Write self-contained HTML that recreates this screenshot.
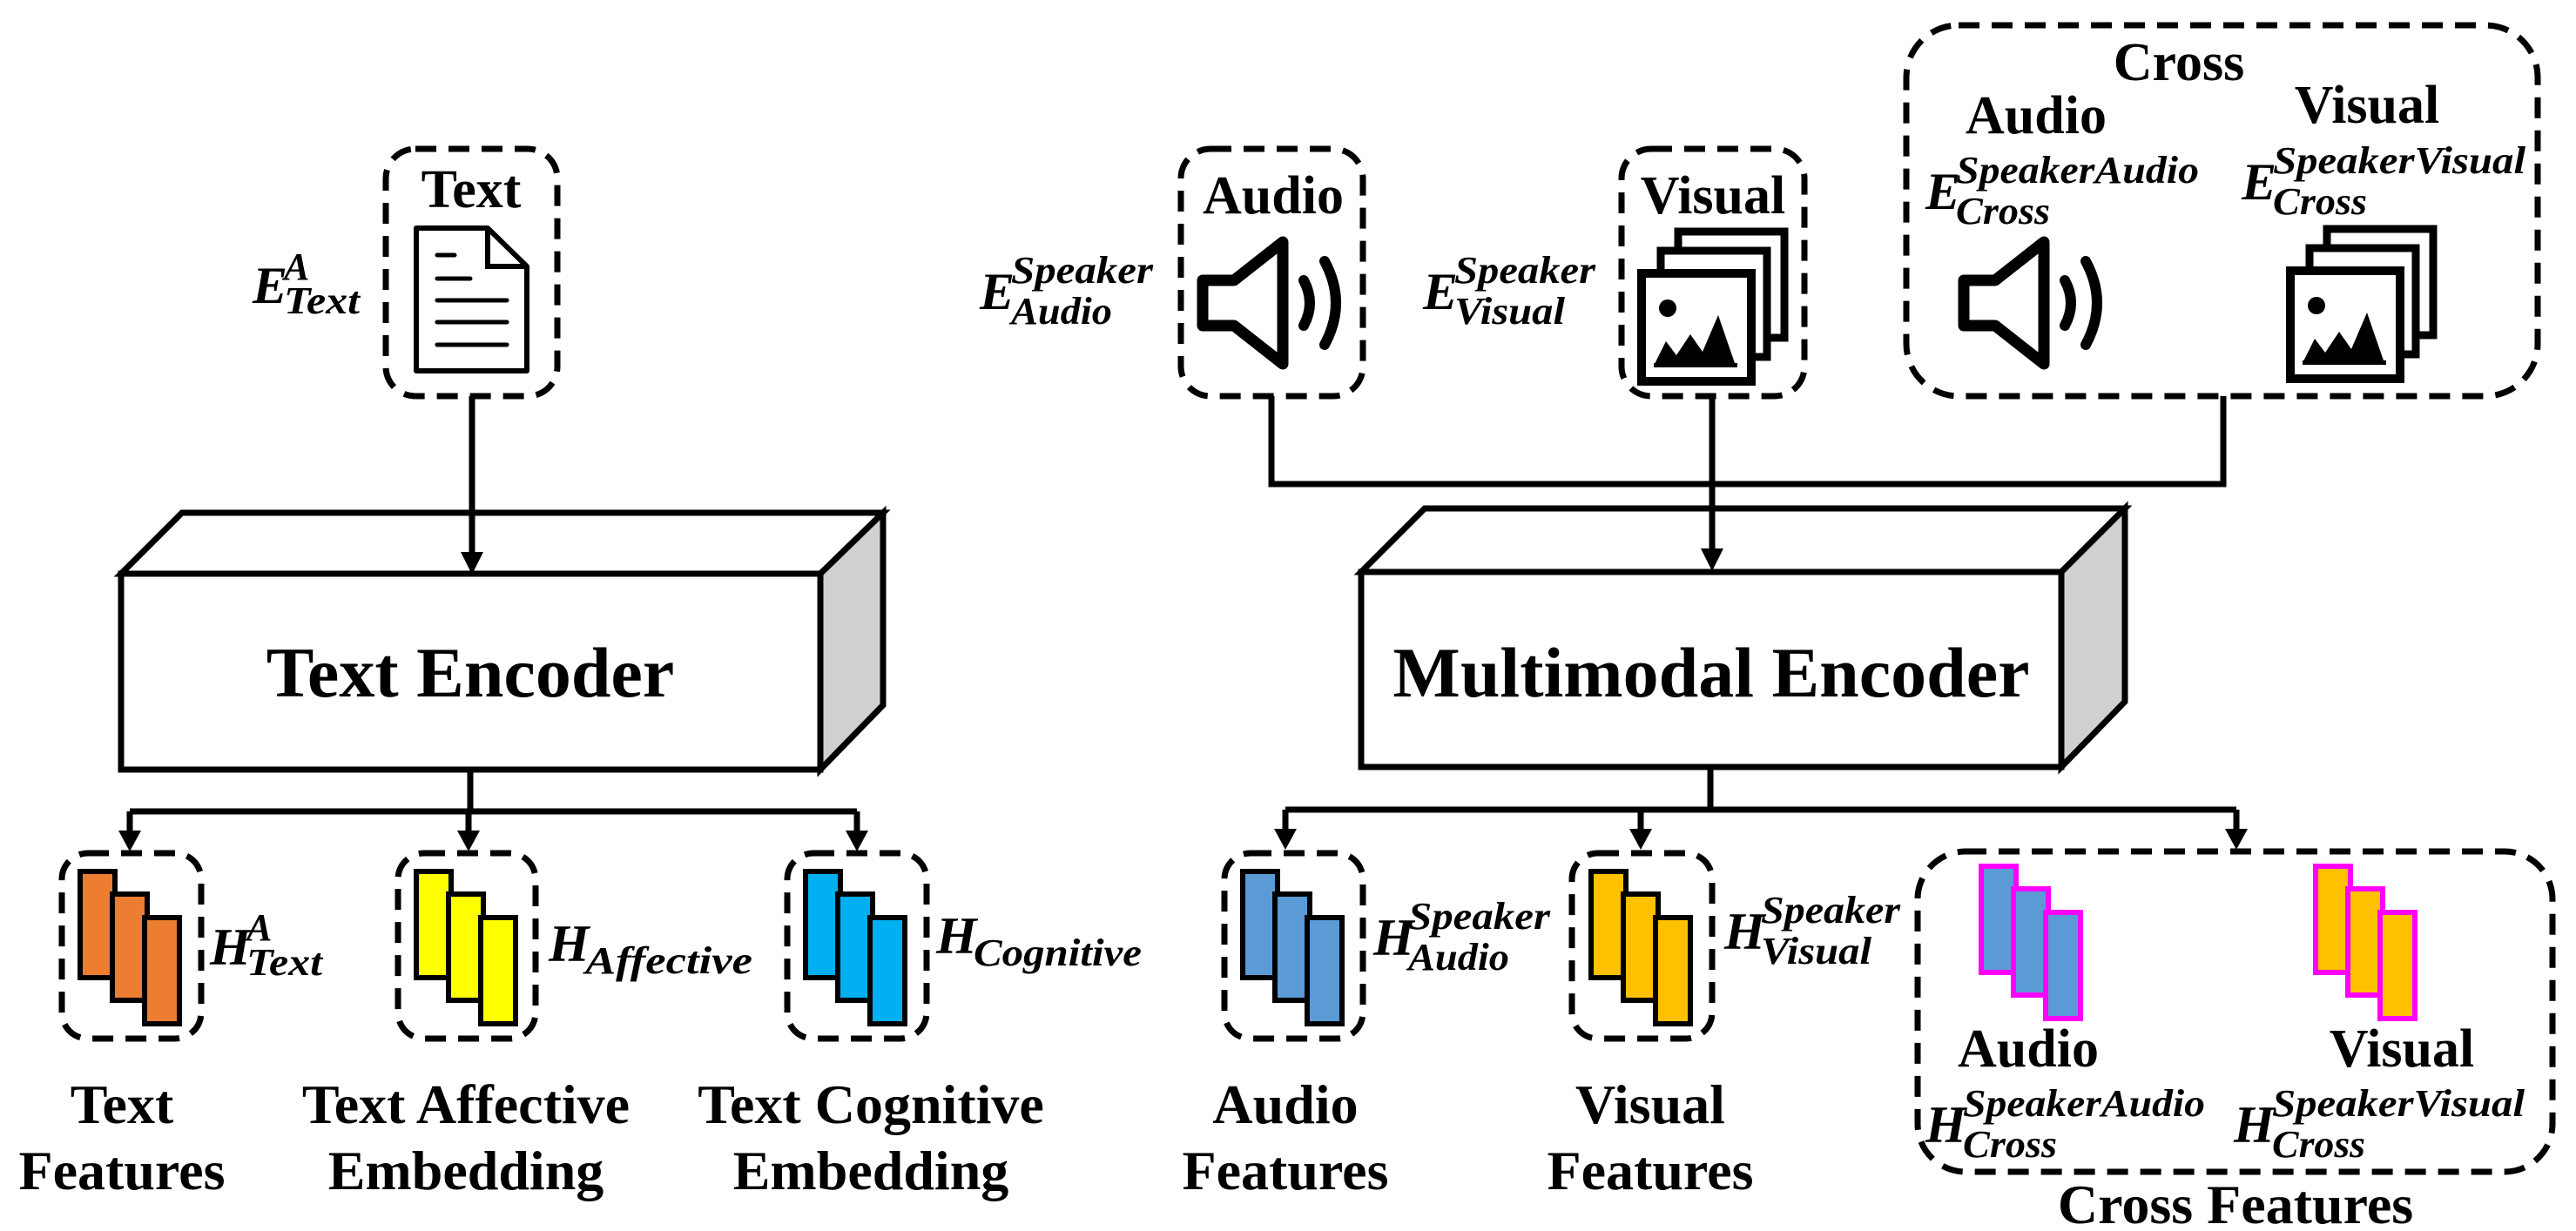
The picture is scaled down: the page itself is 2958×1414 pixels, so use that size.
<!DOCTYPE html>
<html><head><meta charset="utf-8"><style>
html,body{margin:0;padding:0;background:#fff;}
svg{display:block;}
.t{font-family:"Liberation Serif",serif;font-weight:bold;fill:#000;}
.m{font-family:"Liberation Serif",serif;font-weight:bold;font-style:italic;fill:#000;}
.d{fill:none;stroke:#000;stroke-width:7;stroke-dasharray:24 14;}
.l{fill:none;stroke:#000;stroke-width:7;}
</style></head><body>
<svg width="2958" height="1414" viewBox="0 0 2958 1414" xmlns="http://www.w3.org/2000/svg">
<defs>
<g id="spk">
<path d="M6,52 H42 L98,8 V148 L42,104 H6 Z" fill="none" stroke="#000" stroke-width="13" stroke-linejoin="round"/>
<path d="M122,52 Q136,78 122,104" fill="none" stroke="#000" stroke-width="12" stroke-linecap="round"/>
<path d="M146,30 Q172,78 146,126" fill="none" stroke="#000" stroke-width="12" stroke-linecap="round"/>
</g>
<g id="img">
<rect x="46" y="4" width="122" height="122" fill="#fff" stroke="#000" stroke-width="9"/>
<rect x="26" y="26" width="122" height="122" fill="#fff" stroke="#000" stroke-width="9"/>
<rect x="4" y="52" width="126" height="124" fill="#fff" stroke="#000" stroke-width="10"/>
<circle cx="34" cy="92" r="10" fill="#000"/>
<path d="M18,158 L32,130 L44,146 L60,122 L74,142 L92,100 L112,158 Z" fill="#000"/>
<rect x="18" y="155" width="96" height="5" fill="#000"/>
</g>
<g id="bars">
<rect x="0" y="0" width="40" height="122"/>
<rect x="37" y="26" width="40" height="122"/>
<rect x="74" y="53" width="40" height="122"/>
</g>
</defs>

<!-- Text input box -->
<rect class="d" x="443" y="171" width="197" height="284" rx="34"/>
<text class="t" x="541" y="238" font-size="62" text-anchor="middle">Text</text>
<path d="M478,262 H560 L605,306 V426 H478 Z" fill="#fff" stroke="#000" stroke-width="6" stroke-linejoin="round"/>
<path d="M560,262 V306 H605" fill="none" stroke="#000" stroke-width="6"/>
<g stroke="#000" stroke-width="5" stroke-linecap="round">
<line x1="502" y1="293" x2="522" y2="293"/><line x1="502" y1="320" x2="540" y2="320"/>
<line x1="502" y1="345" x2="582" y2="345"/><line x1="502" y1="370" x2="582" y2="370"/><line x1="502" y1="396" x2="582" y2="396"/>
</g>
<text class="m" x="290" y="348" font-size="60">E</text>
<text class="m" x="326" y="321" font-size="44">A</text>
<text class="m" x="326" y="360" font-size="44" textLength="87" lengthAdjust="spacingAndGlyphs">Text</text>

<!-- Audio box -->
<rect class="d" x="1356" y="171" width="209" height="284" rx="34"/>
<text class="t" x="1462" y="245" font-size="62" text-anchor="middle">Audio</text>
<use href="#spk" x="1375" y="270"/>
<text class="m" x="1125" y="355" font-size="60">E</text>
<text class="m" x="1161" y="325" font-size="44" textLength="163" lengthAdjust="spacingAndGlyphs">Speaker</text>
<text class="m" x="1161" y="372" font-size="44" textLength="116" lengthAdjust="spacingAndGlyphs">Audio</text>

<!-- Visual box -->
<rect class="d" x="1862" y="171" width="210" height="284" rx="34"/>
<text class="t" x="1967" y="245" font-size="62" text-anchor="middle">Visual</text>
<use href="#img" x="1881" y="262"/>
<text class="m" x="1634" y="355" font-size="60">E</text>
<text class="m" x="1670" y="325" font-size="44" textLength="162" lengthAdjust="spacingAndGlyphs">Speaker</text>
<text class="m" x="1670" y="372" font-size="44" textLength="127" lengthAdjust="spacingAndGlyphs">Visual</text>

<!-- Cross box -->
<rect class="d" x="2189" y="29" width="725" height="426" rx="60"/>
<text class="t" x="2502" y="92" font-size="62" text-anchor="middle">Cross</text>
<text class="t" x="2338" y="153" font-size="62" text-anchor="middle">Audio</text>
<text class="t" x="2718" y="141" font-size="62" text-anchor="middle">Visual</text>
<text class="m" x="2211" y="240" font-size="60">E</text>
<text class="m" x="2246" y="210" font-size="44" textLength="279" lengthAdjust="spacingAndGlyphs">SpeakerAudio</text>
<text class="m" x="2246" y="257" font-size="44" textLength="108" lengthAdjust="spacingAndGlyphs">Cross</text>
<text class="m" x="2574" y="229" font-size="60">E</text>
<text class="m" x="2610" y="199" font-size="44" textLength="290" lengthAdjust="spacingAndGlyphs">SpeakerVisual</text>
<text class="m" x="2610" y="246" font-size="44" textLength="108" lengthAdjust="spacingAndGlyphs">Cross</text>
<use href="#spk" x="2249" y="270"/>
<use href="#img" x="2626" y="259"/>

<!-- Text encoder -->
<polygon points="139,659 209,589 1014,589 942,659" fill="#fff" stroke="#000" stroke-width="7"/>
<polygon points="942,659 1014,589 1014,810 942,884" fill="#d0d0d0" stroke="#000" stroke-width="7"/>
<rect x="139" y="659" width="803" height="225" fill="#fff" stroke="#000" stroke-width="7"/>
<text class="t" x="540" y="800" font-size="82" text-anchor="middle">Text Encoder</text>

<!-- Multimodal encoder -->
<polygon points="1563,657 1636,584 2440,584 2367,657" fill="#fff" stroke="#000" stroke-width="7"/>
<polygon points="2367,657 2440,584 2440,806 2367,881" fill="#d0d0d0" stroke="#000" stroke-width="7"/>
<rect x="1563" y="657" width="804" height="224" fill="#fff" stroke="#000" stroke-width="7"/>
<text class="t" x="1965" y="800" font-size="82" text-anchor="middle">Multimodal Encoder</text>

<!-- connectors top (drawn over encoders) -->
<path class="l" d="M542,455 V636"/>
<polygon points="529,634 555,634 542,660" fill="#000"/>
<path class="l" d="M1460,455 V556 H2553 V455"/>
<path class="l" d="M1966,455 V632"/>
<polygon points="1953,630 1979,630 1966,656" fill="#000"/>

<!-- bottom connectors left -->
<path class="l" d="M540,884 V932 M149,932 H984 M149,932 V956 M538,932 V956 M984,932 V956"/>
<polygon points="136,954 162,954 149,978" fill="#000"/>
<polygon points="525,954 551,954 538,978" fill="#000"/>
<polygon points="971,954 997,954 984,978" fill="#000"/>
<!-- bottom connectors right -->
<path class="l" d="M1964,881 V930 M1476,930 H2568 M1476,930 V954 M1884,930 V954 M2568,930 V954"/>
<polygon points="1463,952 1489,952 1476,976" fill="#000"/>
<polygon points="1871,952 1897,952 1884,976" fill="#000"/>
<polygon points="2555,952 2581,952 2568,976" fill="#000"/>

<!-- feature boxes -->
<rect class="d" x="71" y="980" width="160" height="213" rx="30"/>
<g transform="translate(92,1001)" fill="#ed7d31" stroke="#000" stroke-width="6"><use href="#bars"/></g>
<rect class="d" x="457" y="980" width="158" height="213" rx="30"/>
<g transform="translate(478,1001)" fill="#ffff00" stroke="#000" stroke-width="6"><use href="#bars"/></g>
<rect class="d" x="904" y="980" width="160" height="213" rx="30"/>
<g transform="translate(925,1001)" fill="#00b0f0" stroke="#000" stroke-width="6"><use href="#bars"/></g>
<rect class="d" x="1406" y="980" width="159" height="213" rx="30"/>
<g transform="translate(1427,1001)" fill="#5b9bd5" stroke="#000" stroke-width="6"><use href="#bars"/></g>
<rect class="d" x="1805" y="980" width="161" height="213" rx="30"/>
<g transform="translate(1827,1001)" fill="#ffc000" stroke="#000" stroke-width="6"><use href="#bars"/></g>

<!-- H labels -->
<text class="m" x="241" y="1108" font-size="60">H</text>
<text class="m" x="283" y="1080" font-size="44">A</text>
<text class="m" x="283" y="1120" font-size="44" textLength="87" lengthAdjust="spacingAndGlyphs">Text</text>
<text class="m" x="630" y="1104" font-size="60">H</text>
<text class="m" x="672" y="1118" font-size="44" textLength="192" lengthAdjust="spacingAndGlyphs">Affective</text>
<text class="m" x="1075" y="1095" font-size="60">H</text>
<text class="m" x="1118" y="1109" font-size="44" textLength="193" lengthAdjust="spacingAndGlyphs">Cognitive</text>
<text class="m" x="1577" y="1097" font-size="60">H</text>
<text class="m" x="1617" y="1067" font-size="44" textLength="163" lengthAdjust="spacingAndGlyphs">Speaker</text>
<text class="m" x="1617" y="1114" font-size="44" textLength="116" lengthAdjust="spacingAndGlyphs">Audio</text>
<text class="m" x="1980" y="1090" font-size="60">H</text>
<text class="m" x="2022" y="1060" font-size="44" textLength="160" lengthAdjust="spacingAndGlyphs">Speaker</text>
<text class="m" x="2022" y="1107" font-size="44" textLength="127" lengthAdjust="spacingAndGlyphs">Visual</text>

<!-- cross features -->
<rect class="d" x="2202" y="978" width="729" height="368" rx="55"/>
<g transform="translate(2275,995)" fill="#5b9bd5" stroke="#ff00ff" stroke-width="6"><use href="#bars"/></g>
<g transform="translate(2659,995)" fill="#ffc000" stroke="#ff00ff" stroke-width="6"><use href="#bars"/></g>
<text class="t" x="2329" y="1225" font-size="62" text-anchor="middle">Audio</text>
<text class="t" x="2758" y="1225" font-size="62" text-anchor="middle">Visual</text>
<text class="m" x="2211" y="1312" font-size="60">H</text>
<text class="m" x="2254" y="1282" font-size="44" textLength="278" lengthAdjust="spacingAndGlyphs">SpeakerAudio</text>
<text class="m" x="2254" y="1329" font-size="44" textLength="108" lengthAdjust="spacingAndGlyphs">Cross</text>
<text class="m" x="2565" y="1312" font-size="60">H</text>
<text class="m" x="2609" y="1282" font-size="44" textLength="290" lengthAdjust="spacingAndGlyphs">SpeakerVisual</text>
<text class="m" x="2609" y="1329" font-size="44" textLength="107" lengthAdjust="spacingAndGlyphs">Cross</text>

<!-- bottom labels -->
<g font-family="Liberation Serif, serif" font-weight="bold" fill="#000" font-size="64" text-anchor="middle">
<text x="140" y="1290">Text</text><text x="140" y="1366">Features</text>
<text x="535" y="1290">Text Affective</text><text x="535" y="1366">Embedding</text>
<text x="1000" y="1290">Text Cognitive</text><text x="1000" y="1366">Embedding</text>
<text x="1476" y="1290">Audio</text><text x="1476" y="1366">Features</text>
<text x="1895" y="1290">Visual</text><text x="1895" y="1366">Features</text>
<text x="2567" y="1405">Cross Features</text>
</g>
</svg>
</body></html>
